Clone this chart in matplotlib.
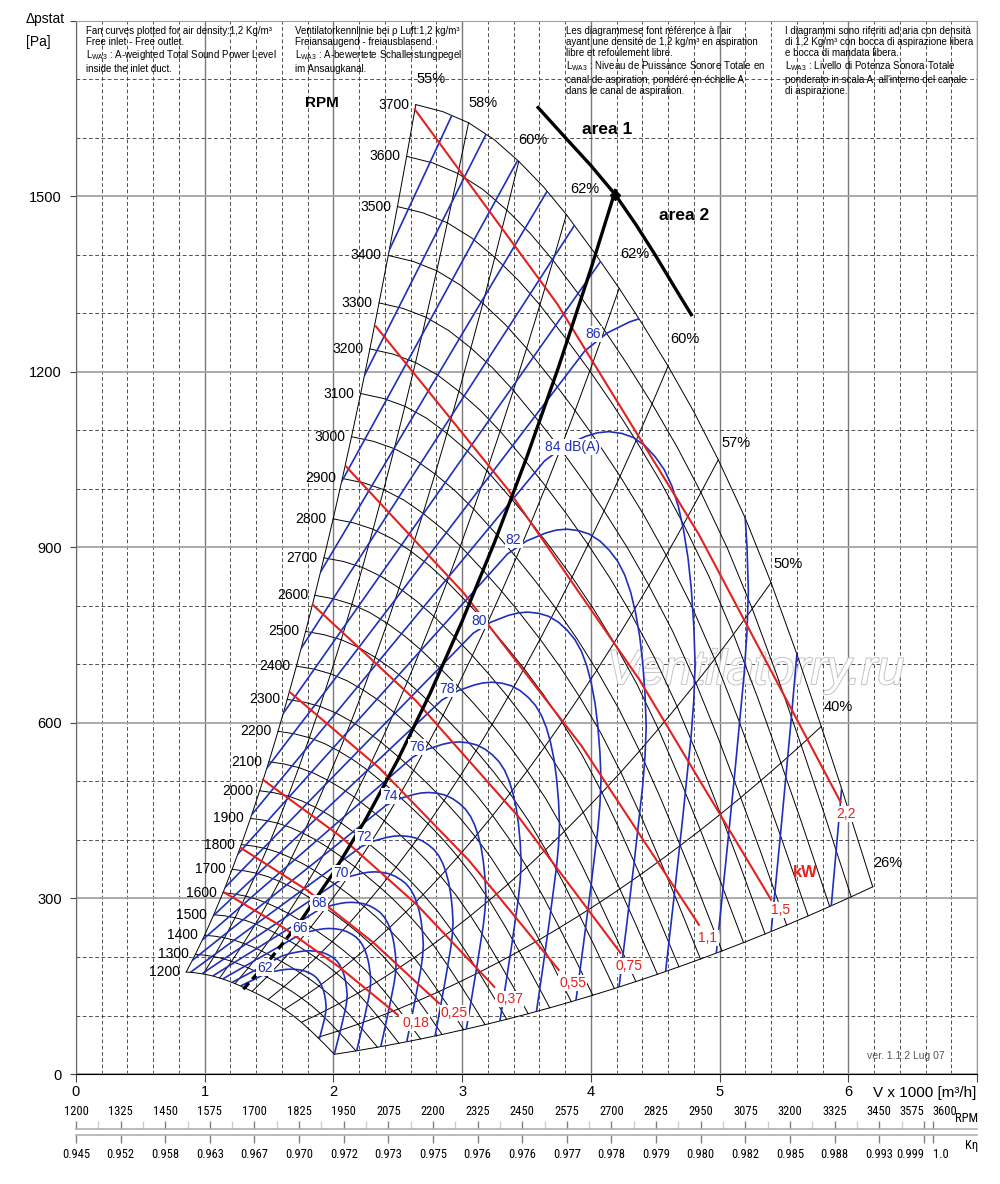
import numpy as np
import matplotlib
matplotlib.use("Agg")
import matplotlib.pyplot as plt
import matplotlib.patheffects as pe
from matplotlib.patches import Polygon
from matplotlib import font_manager

# =====================================================
# values (V in 1000 m3/h, p in Pa)
# =====================================================

# fan speeds of the thin black characteristic curves
RPM = [1200, 1300, 1400, 1500, 1600, 1700, 1800, 1900, 2000, 2100, 2200, 2300, 2400,
       2500, 2600, 2700, 2800, 2900, 3000, 3100, 3200, 3300, 3400, 3500, 3600, 3700]

# top envelope = 3700 rpm curve
TOP_V = [2.64, 2.85, 3.05, 3.25, 3.44, 3.63, 3.81, 4.04, 4.22, 4.40, 4.60, 4.80,
         4.99, 5.20, 5.40, 5.60, 5.79, 5.96, 6.19]
TOP_P = [1657, 1645, 1626, 1597, 1560, 1517, 1469, 1400, 1343, 1282, 1210, 1132,
         1050, 950, 840, 718, 594, 480, 320]

# efficiency lines (where they leave the 3700 curve) and their labels
EFF_AT = [2.64, 3.05, 3.44, 3.81, 4.22, 4.60, 4.99, 5.40, 5.79, 6.19]
EFF_LABELS = ["55%", "58%", "60%", "62%", "62%", "60%", "57%", "50%", "40%", "26%"]
EFF_TXT_V = [2.76, 3.16, 3.55, 3.95, 4.34, 4.73, 5.13, 5.53, 5.92, 6.31]
EFF_TXT_P = [1700, 1659, 1597, 1513, 1401, 1257, 1079, 872, 628, 361]

# iso sound power curve 84 dB(A) (blue), the others are copies of it
SOUND_V = [1.364, 3.64, 3.80, 3.96, 4.05, 4.14, 4.24, 4.33, 4.42, 4.50, 4.57, 4.63,
           4.68, 4.72, 4.755, 4.78, 4.80, 4.81, 4.80, 4.78, 4.71, 4.645, 4.58]
SOUND_P = [443, 1048, 1074, 1090, 1096, 1098, 1095, 1088, 1074, 1055, 1033, 1005,
           970, 930, 882, 830, 765, 700, 640, 580, 430, 300, 174]
DB_LEVELS = [62, 64, 66, 68, 70, 72, 74, 76, 78, 80, 82, 84, 86, 88, 90, 92, 94, 96, 98, 100]
# flow ratio of each curve to the 84 dB(A) one (from where they meet the bottom line)
DB_SCALE = [0.404, 0.438, 0.476, 0.517, 0.561, 0.609, 0.662, 0.719, 0.781, 0.848,
            0.921, 1.0, 1.086, 1.179, 1.281, 1.391, 1.511, 1.641, 1.782, 1.935]
DB_TXT = ["62", "66", "68", "70", "72", "74", "76", "78", "80", "82", "84 dB(A)", "86"]
DB_TXT_V = [1.47, 1.74, 1.89, 2.06, 2.24, 2.44, 2.65, 2.88, 3.13, 3.40, 3.86, 4.02]
DB_TXT_P = [181, 250, 292, 344, 405, 475, 559, 658, 775, 913, 1072, 1265]

# absorbed power lines (red)
KW_TXT = ["0,18", "0,25", "0,37", "0,55", "0,75", "1,1", "1,5", "2,2"]
KW_V = [[1.155, 1.60, 2.05, 2.50],
        [1.284, 1.796, 2.308, 2.82],
        [1.452, 2.05, 2.65, 3.25],
        [1.66, 2.357, 3.053, 3.75],
        [1.84, 2.637, 3.433, 4.23],
        [2.10, 3.013, 3.927, 4.84],
        [2.33, 3.353, 4.377, 5.40],
        [2.632, 3.74, 4.84, 5.94]]
KW_P = [[310, 252, 182, 101],
        [386, 314, 225, 121],
        [503, 407, 289, 149],
        [653, 523, 365, 178],
        [802, 639, 441, 207],
        [1038, 822, 561, 255],
        [1278, 1000, 674, 298],
        [1649, 1316, 922, 465]]
KW_TXT_V = [2.64, 2.94, 3.37, 3.86, 4.30, 4.91, 5.47, 5.98]
KW_TXT_P = [88, 104, 128, 156, 185, 232, 280, 445]

# thick lines: optimum line and area 1 / area 2 limit
THICK_V = [1.30, 1.50, 1.75, 2.00, 2.25, 2.50, 2.75, 3.00, 3.25, 3.50, 3.75, 4.00, 4.19]
THICK_P = [145, 194, 263, 344, 435, 537, 650, 774, 908, 1053, 1209, 1376, 1510]
AREA_V = [3.59, 3.80, 4.00, 4.19, 4.35, 4.50, 4.65, 4.78]
AREA_P = [1652, 1601, 1553, 1503, 1452, 1400, 1345, 1298]

# scales under the chart
RPM_SCALE = [1200, 1325, 1450, 1575, 1700, 1825, 1950, 2075, 2200, 2325, 2450,
             2575, 2700, 2825, 2950, 3075, 3200, 3325, 3450, 3575, 3600]
K_ETA = ["0.945", "0.952", "0.958", "0.963", "0.967", "0.970", "0.972", "0.973",
         "0.975", "0.976", "0.976", "0.977", "0.978", "0.979", "0.980", "0.982",
         "0.985", "0.988", "0.993", "0.999", "1.0"]

NOTES = [
    "Fan curves plotted for air density:1,2 Kg/m\u00b3\nFree inlet - Free outlet.\n"
    "L$_{\\mathrm{WA3}}$ : A-weighted Total Sound Power Level\ninside the inlet duct.",
    "Ventilatorkennlinie bei \u03c1 Luft:1,2 kg/m\u00b3\nFreiansaugend - freiausblasend.\n"
    "L$_{\\mathrm{WA3}}$ : A-bewertete Schalleistungpegel\nim Ansaugkanal.",
    "Les diagrammese font r\u00e9f\u00e9rence \u00e0 l'air\n"
    "ayant une densit\u00e9 de 1,2 kg/m\u00b3 en aspiration\nlibre et refoulement libre.\n"
    "L$_{\\mathrm{WA3}}$ : Niveau de Puissance Sonore Totale en\n"
    "canal de aspiration, pond\u00e9r\u00e9 en \u00e9chelle A\ndans le canal de aspiration.",
    "I diagrammi sono riferiti ad aria con densit\u00e0\n"
    "di 1,2 Kg/m\u00b3 con bocca di aspirazione libera\ne bocca di mandata libera.\n"
    "L$_{\\mathrm{WA3}}$ : Livello di Potenza Sonora Totale\n"
    "ponderato in scala A, all'interno del canale\ndi aspirazione.",
]
NOTES_X = [0.078, 1.70, 3.81, 5.51]

BLUE = "#1f2fbb"
RED = "#e3211f"

# =====================================================
# fonts
# =====================================================
plt.rcParams["font.family"] = ["Liberation Sans", "DejaVu Sans"]
plt.rcParams["mathtext.fontset"] = "custom"
plt.rcParams["mathtext.rm"] = "Liberation Sans"
plt.rcParams["mathtext.it"] = "Liberation Sans:italic"
plt.rcParams["mathtext.bf"] = "Liberation Sans:bold"

# narrow font for the scales under the chart, if one is installed
narrow_fp = None
for want in ["Liberation Sans Narrow", "Roboto Condensed", "Open Sans Condensed", "DejaVu Sans"]:
    for f in font_manager.fontManager.ttflist:
        if f.name == want and f.style == "normal" and f.weight in (400, "normal", "regular"):
            if want != "DejaVu Sans" or "ondensed" in str(f.stretch) or "Condensed" in f.fname:
                narrow_fp = font_manager.FontProperties(fname=f.fname)
                break
    if narrow_fp is not None:
        break
if narrow_fp is None:
    narrow_fp = font_manager.FontProperties(family="Liberation Sans")
    narrow_fp.set_size(8)
else:
    narrow_fp.set_size(9)

fig = plt.figure(figsize=(10, 11.84), dpi=100)
ax = fig.add_axes([0.076, 0.0929, 0.901, 0.8894])
ax.set_xlim(0, 7)
ax.set_ylim(0, 1800)

# grid
ax.set_axisbelow(True)
ax.set_xticks(range(8))
ax.set_xticklabels(["0", "1", "2", "3", "4", "5", "6", ""])
ax.set_yticks(range(0, 1801, 300))
ax.set_yticklabels(["0", "300", "600", "900", "1200", "1500", ""])
ax.set_xticks(np.arange(0, 7.01, 0.2), minor=True)
ax.set_yticks(np.arange(0, 1801, 100), minor=True)
ax.xaxis.grid(True, which="major", color="#7a7a7a", lw=1.0)
ax.yaxis.grid(True, which="major", color="#a4a4a4", lw=1.3)
ax.grid(which="minor", color="#333333", lw=0.6, ls=(0, (4.5, 3)))
ax.tick_params(which="minor", length=0)
ax.tick_params(which="major", direction="out", width=0.8, color="#444444", labelsize=10.5)
ax.tick_params(axis="x", which="major", length=6, pad=2)
ax.tick_params(axis="y", which="major", length=4, pad=6)
for s in ["top", "right"]:
    ax.spines[s].set_color("#9e9e9e")
ax.spines["left"].set_color("#666666")
ax.spines["bottom"].set_color("black")

# =====================================================
# fan curves (affinity: V ~ n, p ~ n^2)
# =====================================================
top_v = np.array(TOP_V)
top_p = np.array(TOP_P)
s = np.array(RPM) / RPM[-1]
mesh_v = np.outer(s, top_v)
mesh_p = np.outer(s ** 2, top_p)

for row in range(len(RPM)):
    ax.plot(mesh_v[row], mesh_p[row], color="black", lw=0.7, zorder=2)
for v0 in EFF_AT:
    j = TOP_V.index(v0)
    ax.plot(mesh_v[:, j], mesh_p[:, j], color="black", lw=0.7, zorder=2)

for r, v, p in zip(RPM, mesh_v[:, 0], mesh_p[:, 0]):
    ax.text(v - 0.05, p, str(r), ha="right", va="center", fontsize=10, zorder=5)

for t, v, p in zip(EFF_LABELS, EFF_TXT_V, EFF_TXT_P):
    ax.text(v, p, t, ha="center", va="center", fontsize=10.5, zorder=5)

# working region of the fan, used to clip the sound curves
outline = np.vstack([
    np.column_stack([mesh_v[:, 0], mesh_p[:, 0]]),
    np.column_stack([mesh_v[-1, :], mesh_p[-1, :]]),
    np.column_stack([mesh_v[::-1, -1], mesh_p[::-1, -1]]),
    np.column_stack([mesh_v[0, ::-1], mesh_p[0, ::-1]]),
])
region = Polygon(outline, closed=True, fill=False, edgecolor="none", transform=ax.transData)
ax.add_patch(region)

# =====================================================
# sound curves (blue)
# =====================================================
sv = np.array(SOUND_V)
sp = np.array(SOUND_P)
for c in DB_SCALE:
    line, = ax.plot(sv * c, sp * c ** 2, color=BLUE, lw=1.2, zorder=3)
    line.set_clip_path(region)

box = dict(boxstyle="square,pad=0.08", fc="white", ec="none")
for t, v, p in zip(DB_TXT, DB_TXT_V, DB_TXT_P):
    ax.text(v, p, t, ha="center", va="center", fontsize=10, color=BLUE, bbox=box, zorder=6)

# =====================================================
# power lines (red)
# =====================================================
for v, p in zip(KW_V, KW_P):
    ax.plot(v, p, color=RED, lw=1.5, zorder=3.5)
for t, v, p in zip(KW_TXT, KW_TXT_V, KW_TXT_P):
    ax.text(v, p, t, ha="center", va="center", fontsize=10, color=RED, bbox=box, zorder=6)
ax.text(5.67, 345, "kW", ha="center", va="center", fontsize=12, fontweight="bold",
        color=RED, zorder=6)

# =====================================================
# thick lines
# =====================================================
ax.plot(THICK_V[:3], THICK_P[:3], color="black", lw=2.4, ls=(0, (2.5, 1.5)), zorder=4)
ax.plot(THICK_V[2:], THICK_P[2:], color="black", lw=2.4, zorder=4)
ax.plot(AREA_V, AREA_P, color="black", lw=2.4, zorder=4)
ax.plot(AREA_V[3], AREA_P[3], marker="D", ms=5, color="black", zorder=4.5)
ax.text(3.93, 1614, "area 1", ha="left", va="center", fontsize=12.5, fontweight="bold", zorder=6)
ax.text(4.53, 1467, "area 2", ha="left", va="center", fontsize=12.5, fontweight="bold", zorder=6)
ax.text(1.78, 1659, "RPM", ha="left", va="center", fontsize=11, fontweight="bold", zorder=6)

# notes, version, watermark
for t, x in zip(NOTES, NOTES_X):
    ax.text(x, 1792, t, ha="left", va="top", fontsize=7, linespacing=1.15, zorder=6)
ax.text(6.45, 31, "ver. 1.1.2 Lug 07", ha="center", va="center", fontsize=7.5,
        color="#555555", zorder=6)
ax.text(5.28, 688, "Ventilatorry.ru", ha="center", va="center", fontsize=35,
        style="italic", color="white", zorder=1.5,
        path_effects=[pe.withStroke(linewidth=1.4, foreground="#c4c4c4")])

# axis titles
fig.text(0.026, 0.984, "\u0394pstat", ha="left", va="center", fontsize=10)
fig.text(0.026, 0.9645, "[Pa]", ha="left", va="center", fontsize=10)
fig.text(0.976, 0.0769, "V x 1000 [m\u00b3/h]", ha="right", va="center", fontsize=11)

# =====================================================
# RPM and K-eta scales
# =====================================================
rpm_lim = (1200, 3724)
minor_rpm = np.arange(1262.5, 3575, 125)

ax_r = fig.add_axes([0.076, 1 - 1129 / 1184, 0.901, 1e-4])
ax_r.set_xlim(rpm_lim)
ax_r.set_yticks([])
ax_r.patch.set_visible(False)
for sp_name in ["left", "right", "bottom"]:
    ax_r.spines[sp_name].set_visible(False)
ax_r.spines["top"].set_color("#b0b0b0")
ax_r.spines["top"].set_linewidth(1.2)
ax_r.set_xticks(RPM_SCALE)
ax_r.set_xticklabels([str(r) for r in RPM_SCALE], fontproperties=narrow_fp)
ax_r.set_xticks(minor_rpm, minor=True)
ax_r.tick_params(axis="x", which="major", top=True, labeltop=True, bottom=False,
                 labelbottom=False, direction="out", length=6, width=1, color="#808080",
                 pad=1.5)
ax_r.tick_params(axis="x", which="minor", top=True, bottom=False, direction="out",
                 length=6, width=1, color="#cccccc")

ax_k = fig.add_axes([0.076, 1 - 1135 / 1184, 0.901, 1e-4])
ax_k.set_xlim(rpm_lim)
ax_k.set_yticks([])
ax_k.patch.set_visible(False)
for sp_name in ["left", "right", "top"]:
    ax_k.spines[sp_name].set_visible(False)
ax_k.spines["bottom"].set_color("#b0b0b0")
ax_k.spines["bottom"].set_linewidth(1.2)
ax_k.set_xticks(RPM_SCALE)
k_lbls = ax_k.set_xticklabels(K_ETA, fontproperties=narrow_fp)
ax_k.tick_params(axis="x", which="major", direction="out", length=6, width=1,
                 color="#808080", pad=3)

# the last two ticks are close: push their labels apart
for lbls in (ax_r.get_xticklabels(), k_lbls):
    lbls[-2].set_horizontalalignment("right")
    lbls[-1].set_horizontalalignment("left")

fig.text(0.978, 1 - 1119 / 1184, "RPM", ha="right", va="center", fontproperties=narrow_fp)
fig.text(0.978, 1 - 1146 / 1184, "K\u03b7", ha="right", va="center", fontproperties=narrow_fp)

fig.savefig("out.png", dpi=100, facecolor="white")
